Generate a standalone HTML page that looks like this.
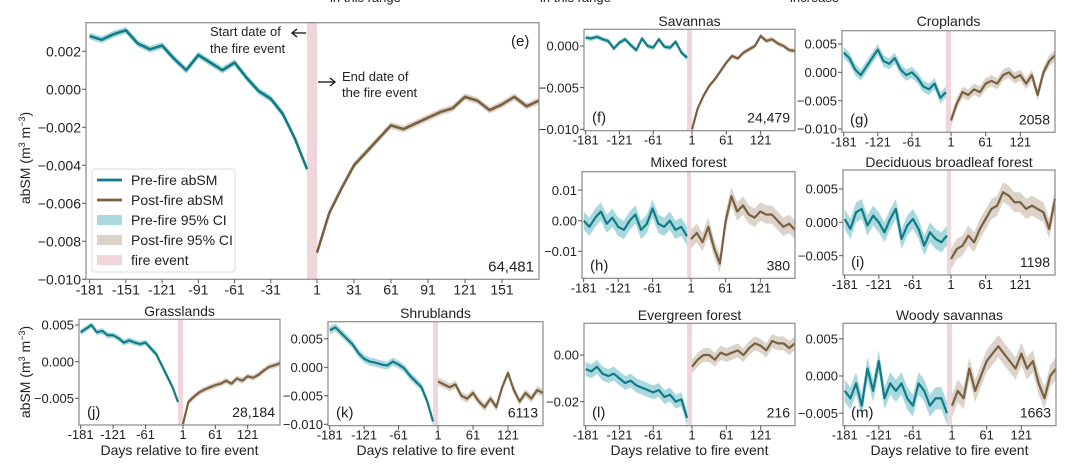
<!DOCTYPE html>
<html><head><meta charset="utf-8"><style>
body{margin:0;background:#fff}
svg{display:block;font-family:"Liberation Sans",sans-serif}
</style></head><body>
<svg id="fig" width="1080" height="465" viewBox="0 0 1080 465">
<g font-size="13" fill="#222">
<text x="330" y="2">in this range</text><text x="540" y="2">in this range</text><text x="790" y="2">increase</text>
</g>
</svg>
<script>
// values in units of 0.001 m3 m-3; pre days -181..-1 step 10, post days 1..181 step 10
const preDays=[-181,-171,-161,-151,-141,-131,-121,-111,-101,-91,-81,-71,-61,-51,-41,-31,-21,-11,-1];
const postDays=[1,11,21,31,41,51,61,71,81,91,101,111,121,131,141,151,161,171,181];
const preE=[2.8,2.6,2.9,3.1,2.4,2.1,2.3,1.6,1.0,1.8,1.4,1.0,1.4,0.6,-0.1,-0.5,-1.3,-2.6,-4.2];
const postE=[-8.6,-6.5,-5.2,-4.0,-3.3,-2.6,-1.9,-2.1,-1.8,-1.5,-1.2,-1.0,-0.4,-0.6,-1.1,-0.8,-0.4,-0.9,-0.6];
const preF=[1.0,0.9,1.1,0.8,0.6,-0.3,0.4,0.8,0.1,-0.5,0.9,0.0,-0.2,0.8,-0.1,-0.2,0.5,-0.8,-1.4];
const postF=[-10.0,-7.5,-6.0,-4.8,-4.0,-3.0,-2.0,-1.2,-1.5,-0.8,-0.4,0.0,1.2,0.6,0.8,0.3,0.0,-0.5,-0.6];
const preG=[3.5,2.5,0.5,-0.5,1.0,2.5,4.0,2.0,1.5,2.5,0.5,-0.5,0.0,-1.0,-2.5,-3.0,-2.0,-4.5,-3.5];
const postG=[-8.5,-5.5,-3.5,-4.0,-3.0,-3.5,-2.0,-1.5,-2.0,-0.5,0.0,-1.0,-0.5,-2.0,-0.5,-4.0,0.0,2.0,3.0];
const preH=[0,-2,1,3,-1,1,-2,-3,0,2,-3,-1,4,-1,-2,0,-3,-2,-5];
const postH=[-6,-4,-7,-2,-9,-14,0,8,3,5,2,1,3,2,2,0,-2,-1,-3];
const preI=[0.5,-1.0,1.5,2.0,-0.5,1.0,0.0,-1.5,0.5,2.0,-2.5,-0.5,0.5,-1.0,-3.5,-1.5,-2.5,-3.0,-2.0];
const postI=[-5.5,-4.0,-3.5,-2.0,-3.0,-1.0,0.5,2.0,2.5,4.5,4.0,3.0,3.0,2.0,2.5,2.0,1.5,-1.0,3.5];
const preJ=[4.0,4.5,5.0,4.0,4.2,3.6,3.6,3.2,2.6,2.9,2.6,2.4,2.6,1.8,1.0,-0.5,-2.0,-3.5,-5.5];
const postJ=[-8.5,-5.5,-4.8,-4.2,-3.8,-3.5,-3.2,-3.0,-2.6,-3.0,-2.3,-2.6,-2.0,-2.2,-1.8,-1.2,-0.7,-0.5,-0.2];
const preK=[6.5,7.0,6.0,5.0,4.0,2.5,1.5,1.0,0.8,0.5,0.3,1.0,0.5,-0.2,-1.5,-2.5,-3.5,-6.0,-9.5];
const postK=[-2.5,-3.0,-3.5,-3.0,-5.0,-5.5,-4.5,-6.0,-7.0,-5.5,-7.0,-3.5,-1.0,-4.0,-6.0,-4.5,-5.5,-4.0,-4.5];
const preL=[-6,-7,-5,-8,-9,-8,-10,-12,-11,-13,-14,-15,-16,-15,-18,-17,-20,-19,-27];
const postL=[-5,-2,0,0,-2,1,0,1,2,0,3,5,4,2,6,5,5,3,5];
const preM=[-2,-3,-1,-4,1,-2,2,-3,-1,-2,-1,-3,-4,-1,-2,-4,-3,-3,-5];
const postM=[-4,-2,-3,1,-2,0,2,3,4,3,2,1,3,1,2,-1,-3,0,1];
const ticksMain=[-181,-151,-121,-91,-61,-31,1,31,61,91,121,151];
const ticksSmall=[-181,-121,-61,1,61,121];

const NS="http://www.w3.org/2000/svg";
const svg=document.getElementById('fig');
function mk(tag,attrs,parent,txt){const e=document.createElementNS(NS,tag);for(const k in attrs)e.setAttribute(k,attrs[k]);if(txt!==undefined)e.textContent=txt;(parent||svg).appendChild(e);return e;}

const panels=[
 {id:'e',x0:86,x1:539,y0:22.7,y1:279.3,top:3.5,bot:-10,bl:307,br:317,pre:preE,post:postE,ci:0.18,yt:[[2,'0.002'],[0,'0.000'],[-2,'−0.002'],[-4,'−0.004'],[-6,'−0.006'],[-8,'−0.008'],[-10,'−0.010']],xt:ticksMain,fs:14,title:'',n:'64,481',lab:''},
 {id:'f',x0:584,x1:795,y0:29.3,y1:130.7,top:2.0,bot:-10.17,bl:687,br:692,pre:preF,post:postF,ci:0.3,yt:[[0,'0.000'],[-5,'−0.005'],[-10,'−0.010']],xt:ticksSmall,fs:13,title:'Savannas',ty:26,n:'24,479',lab:'(f)'},
 {id:'g',x0:842,x1:1055,y0:30.7,y1:132.3,top:7.34,bot:-10.58,bl:946,br:951,pre:preG,post:postG,ci:1.0,yt:[[5,'0.005'],[0,'0.000'],[-5,'−0.005'],[-10,'−0.010']],xt:ticksSmall,fs:13,title:'Croplands',ty:26,n:'2058',lab:'(g)'},
 {id:'h',x0:582,x1:795,y0:171.7,y1:278.3,top:16,bot:-18.8,bl:687,br:691,pre:preH,post:postH,ci:3,yt:[[10,'0.01'],[0,'0.00'],[-10,'−0.01']],xt:ticksSmall,fs:13,title:'Mixed forest',ty:167,n:'380',lab:'(h)'},
 {id:'i',x0:843,x1:1055,y0:170,y1:275,top:7.84,bot:-7.9,bl:947,br:951,pre:preI,post:postI,ci:1.5,yt:[[5,'0.005'],[0,'0.000'],[-5,'−0.005']],xt:ticksSmall,fs:13,title:'Deciduous broadleaf forest',ty:167,n:'1198',lab:'(i)'},
 {id:'j',x0:79,x1:280,y0:319.3,y1:425,top:5.78,bot:-8.64,bl:178,br:183,pre:preJ,post:postJ,ci:0.4,yt:[[5,'0.005'],[0,'0.000'],[-5,'−0.005']],xt:ticksSmall,fs:13,title:'Grasslands',ty:316,n:'28,184',lab:'(j)',days:1},
 {id:'k',x0:328,x1:543,y0:321.7,y1:425.7,top:8.0,bot:-10.25,bl:433,br:438,pre:preK,post:postK,ci:0.7,yt:[[5,'0.005'],[0,'0.000'],[-5,'−0.005'],[-10,'−0.010']],xt:ticksSmall,fs:13,title:'Shrublands',ty:318,n:'6113',lab:'(k)',days:1},
 {id:'l',x0:584,x1:795,y0:323.3,y1:425.7,top:13.6,bot:-30.3,bl:687,br:692,pre:preL,post:postL,ci:3,yt:[[0,'0.00'],[-20,'−0.02']],xt:ticksSmall,fs:13,title:'Evergreen forest',ty:320,n:'216',lab:'(l)',days:1},
 {id:'m',x0:843,x1:1056,y0:323.3,y1:425.7,top:7.09,bot:-6.69,bl:947,br:952,pre:preM,post:postM,ci:1.5,yt:[[5,'0.005'],[0,'0.000'],[-5,'−0.005']],xt:ticksSmall,fs:13,title:'Woody savannas',ty:320,n:'1663',lab:'(m)',days:1},
];

panels.forEach(p=>{
 const g=mk('g',{});
 
 
 const y=v=>p.y0+(p.top-v)/(p.top-p.bot)*(p.y1-p.y0);
 const x=d=>d<0? p.x0+(d+184)/183*(p.bl-p.x0) : p.br+(d-1)/180*(p.x1-p.br);
 const band=mk('rect',{x:p.bl,y:p.y0,width:p.br-p.bl,height:p.y1-p.y0,fill:'#f0d6da'},g);
 
 
 [[preDays,p.pre,'#a9d9df','#127c86','pre'],[postDays,p.post,'#dcd3ca','#7a603f','post']].forEach(([ds,vs,cf,lc,nm])=>{
  const up=ds.map((d,i)=>x(d)+','+y(vs[i]+p.ci)).join(' ');
  const dn=ds.map((d,i)=>x(d)+','+y(vs[i]-p.ci)).reverse().join(' ');
  const ci=mk('polygon',{points:up+' '+dn,fill:cf},g);
  
  
  const ln=mk('polyline',{points:ds.map((d,i)=>x(d)+','+y(vs[i])).join(' '),fill:'none',stroke:lc,'stroke-width':p.id==='e'?2.6:2.2,'stroke-linejoin':'round'},g);
  
  
 });
 mk('rect',{x:p.x0,y:p.y0,width:p.x1-p.x0,height:p.y1-p.y0,fill:'none',stroke:'#8a8a8a','stroke-width':1.2},g);
 p.yt.forEach(([v,t])=>{
  const yy=y(v);
  mk('line',{x1:p.x0-4,x2:p.x0,y1:yy,y2:yy,stroke:'#555'},g);
  const tx=mk('text',{x:p.x0-5,y:yy+p.fs*0.36,'text-anchor':'end','font-size':p.fs,fill:'#222'},g,t);
  
  
 });
 p.xt.forEach(d=>{
  const xx=x(d);
  mk('line',{x1:xx,x2:xx,y1:p.y1,y2:p.y1+4,stroke:'#555'},g);
  const tx=mk('text',{x:xx,y:p.y1+p.fs+1,'text-anchor':'middle','font-size':p.fs,fill:'#222'},g,String(d));
  
  
 });
 if(p.title){const t=mk('text',{x:(p.x0+p.x1)/2,y:p.ty,'text-anchor':'middle','font-size':14,fill:'#222'},g,p.title);
  
  }
 if(p.lab){const t=mk('text',{x:p.x0+8,y:p.y1-8,'font-size':15,fill:'#222'},g,p.lab);
  
  }
 const c=mk('text',{x:p.x1-5,y:p.y1-8,'text-anchor':'end','font-size':p.id==='e'?15:14,fill:'#222'},g,p.n);
 
 
 if(p.days){const t=mk('text',{x:(p.x0+p.x1)/2,y:455,'text-anchor':'middle','font-size':14,fill:'#222'},g,'Days relative to fire event');
  
  }
});

// main panel annotations
const ann=mk('g',{'font-size':13,fill:'#222'});


mk('text',{x:210,y:36},ann,'Start date of');
mk('text',{x:210,y:53},ann,'the fire event');
mk('text',{x:342,y:81},ann,'End date of');
mk('text',{x:342,y:97},ann,'the fire event');
mk('line',{x1:306,y1:33,x2:293,y2:33,stroke:'#111','stroke-width':1.3},ann);
mk('path',{d:'M297,29 L292,33 L297,37',fill:'none',stroke:'#111','stroke-width':1.3},ann);
mk('line',{x1:318,y1:82,x2:334,y2:82,stroke:'#111','stroke-width':1.3},ann);
mk('path',{d:'M330,78 L335,82 L330,86',fill:'none',stroke:'#111','stroke-width':1.3},ann);
const el=mk('text',{x:511,y:46,'font-size':15,fill:'#222'},svg,'(e)');



// y-axis titles
[[30,158,'14'],[30,372,'14']].forEach(([cx,cy,fs])=>{
 const t=mk('text',{transform:`translate(${cx},${cy}) rotate(-90)`,'text-anchor':'middle','font-size':fs,fill:'#222'});
 
 
 t.innerHTML='abSM (m<tspan baseline-shift="super" font-size="9">3</tspan> m<tspan baseline-shift="super" font-size="9">−3</tspan>)';
});

// legend
const lg=mk('g',{});


mk('rect',{x:92,y:169,width:143,height:103,rx:3,fill:'#fff',stroke:'#ddd'},lg);
const items=[['line','#127c86','Pre-fire abSM'],['line','#7a603f','Post-fire abSM'],['box','#a9d9df','Pre-fire 95% CI'],['box','#dcd3ca','Post-fire 95% CI'],['box','#f0d6da','fire event']];
items.forEach((it,i)=>{
 const yy=180+i*20;
 const e=mk('g',{},lg);
 
 
 if(it[0]==='line')mk('line',{x1:97,x2:122,y1:yy,y2:yy,stroke:it[1],'stroke-width':2.8},e);
 else mk('rect',{x:97,y:yy-5,width:25,height:10,fill:it[1]},e);
 mk('text',{x:131,y:yy+5,'font-size':14,fill:'#222'},e,it[2]);
});
</script>
</body></html>
